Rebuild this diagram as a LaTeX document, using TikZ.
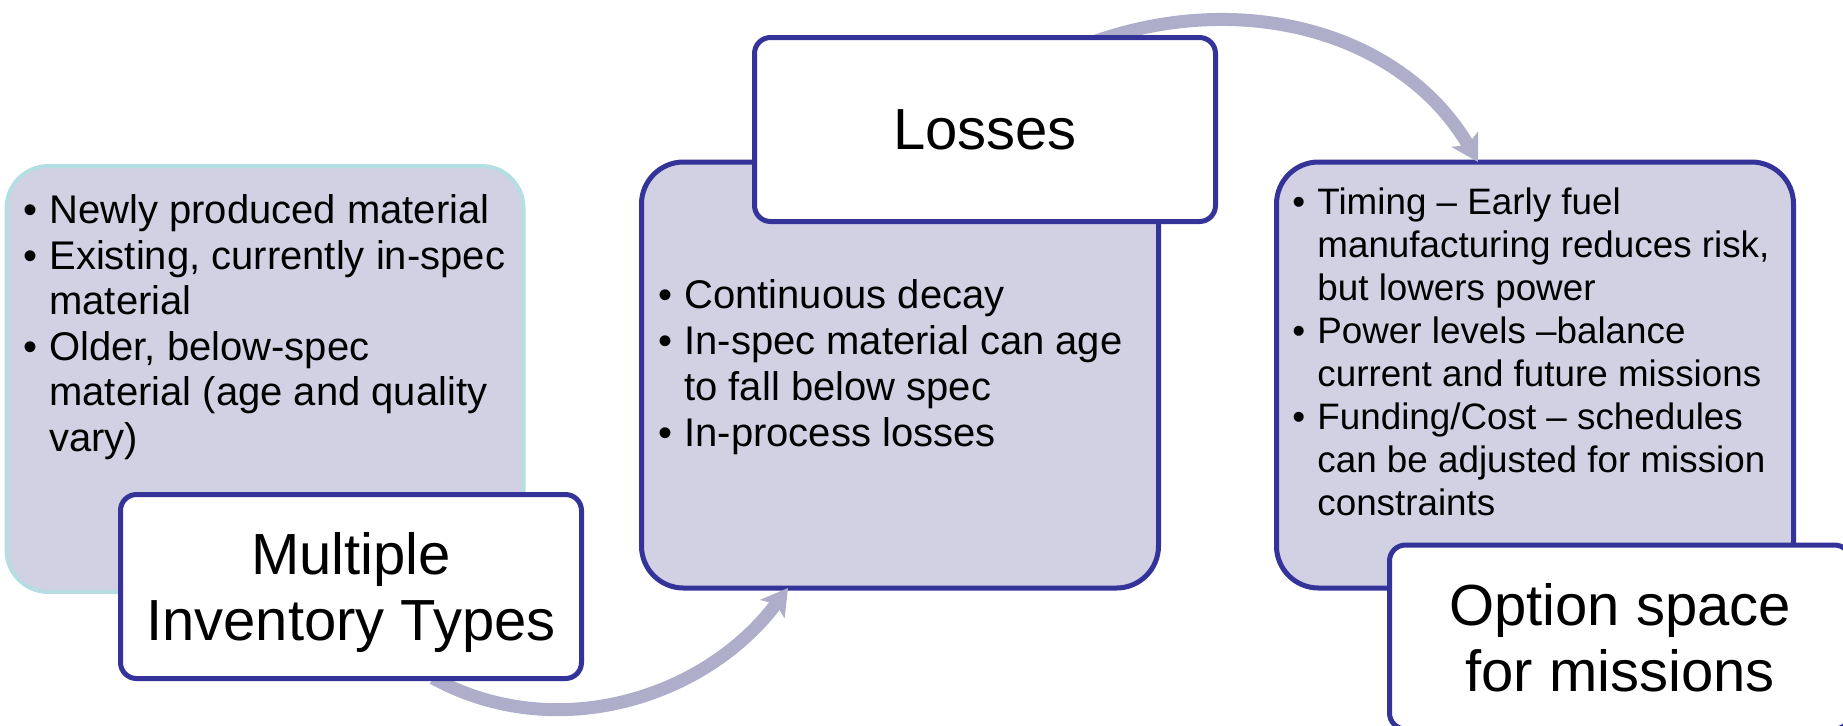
\documentclass[tikz,border=0pt]{standalone}
\usepackage{fontspec}
\setmainfont{Liberation Sans}
\usetikzlibrary{arrows.meta}
\definecolor{panelfill}{RGB}{209,209,227}
\definecolor{panelline}{RGB}{51,51,153}
\definecolor{paleline}{RGB}{180,222,226}
\definecolor{flowline}{RGB}{174,174,203}
% bullet with a fixed hanging indent, and the matching indent for wrapped lines
\newcommand\bul[1]{\makebox[#1][l]{•}}
\newcommand\ind[1]{\hspace*{#1}}
% fixed line box for the two-line headings
\newcommand\toprule{\rule{0pt}{27.5pt}}
\newcommand\botrule{\rule[-6.5pt]{0pt}{6.5pt}}
\begin{document}
\begin{tikzpicture}[x=0.5pt,y=-0.5pt,
  panel/.style={draw=panelline, fill=panelfill, line width=2.5pt,
    rounded corners=21pt, minimum width=258.5pt, minimum height=213pt,
    inner sep=0pt},
  headbox/.style={draw=panelline, fill=white, line width=2.5pt,
    rounded corners=8pt, minimum width=230.5pt, minimum height=92pt,
    inner sep=0pt, align=center, font=\fontsize{29}{33}\selectfont},
  bullets/.style={anchor=north west, inner sep=0pt, align=left,
    font=\fontsize{20}{22.75}\selectfont},
  flow/.style={draw=flowline, line width=6.5pt,
    -{Stealth[length=13pt,width=15pt,inset=3pt]}}]
\useasboundingbox (0,0) rectangle (1843,725);
\clip (0,0) rectangle (1843,725);

% content panels
\node[panel, draw=paleline, line width=2pt] (b1) at (265,379) {};
\node[panel] (b2) at (900,375) {};
\node[panel] (b3) at (1535,375) {};

% bullet lists
\node[bullets] (l1) at (23,194.5) {%
  \bul{13pt}Newly produced material\\
  \bul{13pt}Existing, currently in-spec\\
  \ind{13pt}material\\
  \bul{13pt}Older, below-spec\\
  \ind{13pt}material (age and quality\\
  \ind{13pt}vary)};
\node[bullets, font=\fontsize{20}{22.9}\selectfont] (l2) at (658,279.5) {%
  \bul{13pt}Continuous decay\\
  \bul{13pt}In-spec material can age\\
  \ind{13pt}to fall below spec\\
  \bul{13pt}In-process losses};
\node[bullets, font=\fontsize{18.4}{21.55}\selectfont] (l3) at (1292,187) {%
  \bul{12.5pt}Timing – Early fuel\\
  \ind{12.5pt}manufacturing reduces risk,\\
  \ind{12.5pt}but lowers power\\
  \bul{12.5pt}Power levels –balance\\
  \ind{12.5pt}current and future missions\\
  \bul{12.5pt}Funding/Cost – schedules\\
  \ind{12.5pt}can be adjusted for mission\\
  \ind{12.5pt}constraints};

% curved flow arrows
\coordinate (a1s) at (433,678);
\coordinate (a1e) at (788,588);
\coordinate (a2s) at (1085,45);
\coordinate (a2e) at (1478,162);
\draw[flow] (a1s) .. controls (555,745) and (705,699) .. (a1e);
\draw[flow] (a2s) .. controls (1241,-14) and (1403,33) .. (a2e);

% heading boxes
\node[headbox] (t1) at (351,586.5) {\toprule Multiple\\Inventory Types\botrule};
\node[headbox] (t2) at (985,129.5) {Losses};
\node[headbox] (t3) at (1620,637) {\toprule Option space\\for missions\botrule};
\end{tikzpicture}
\end{document}
